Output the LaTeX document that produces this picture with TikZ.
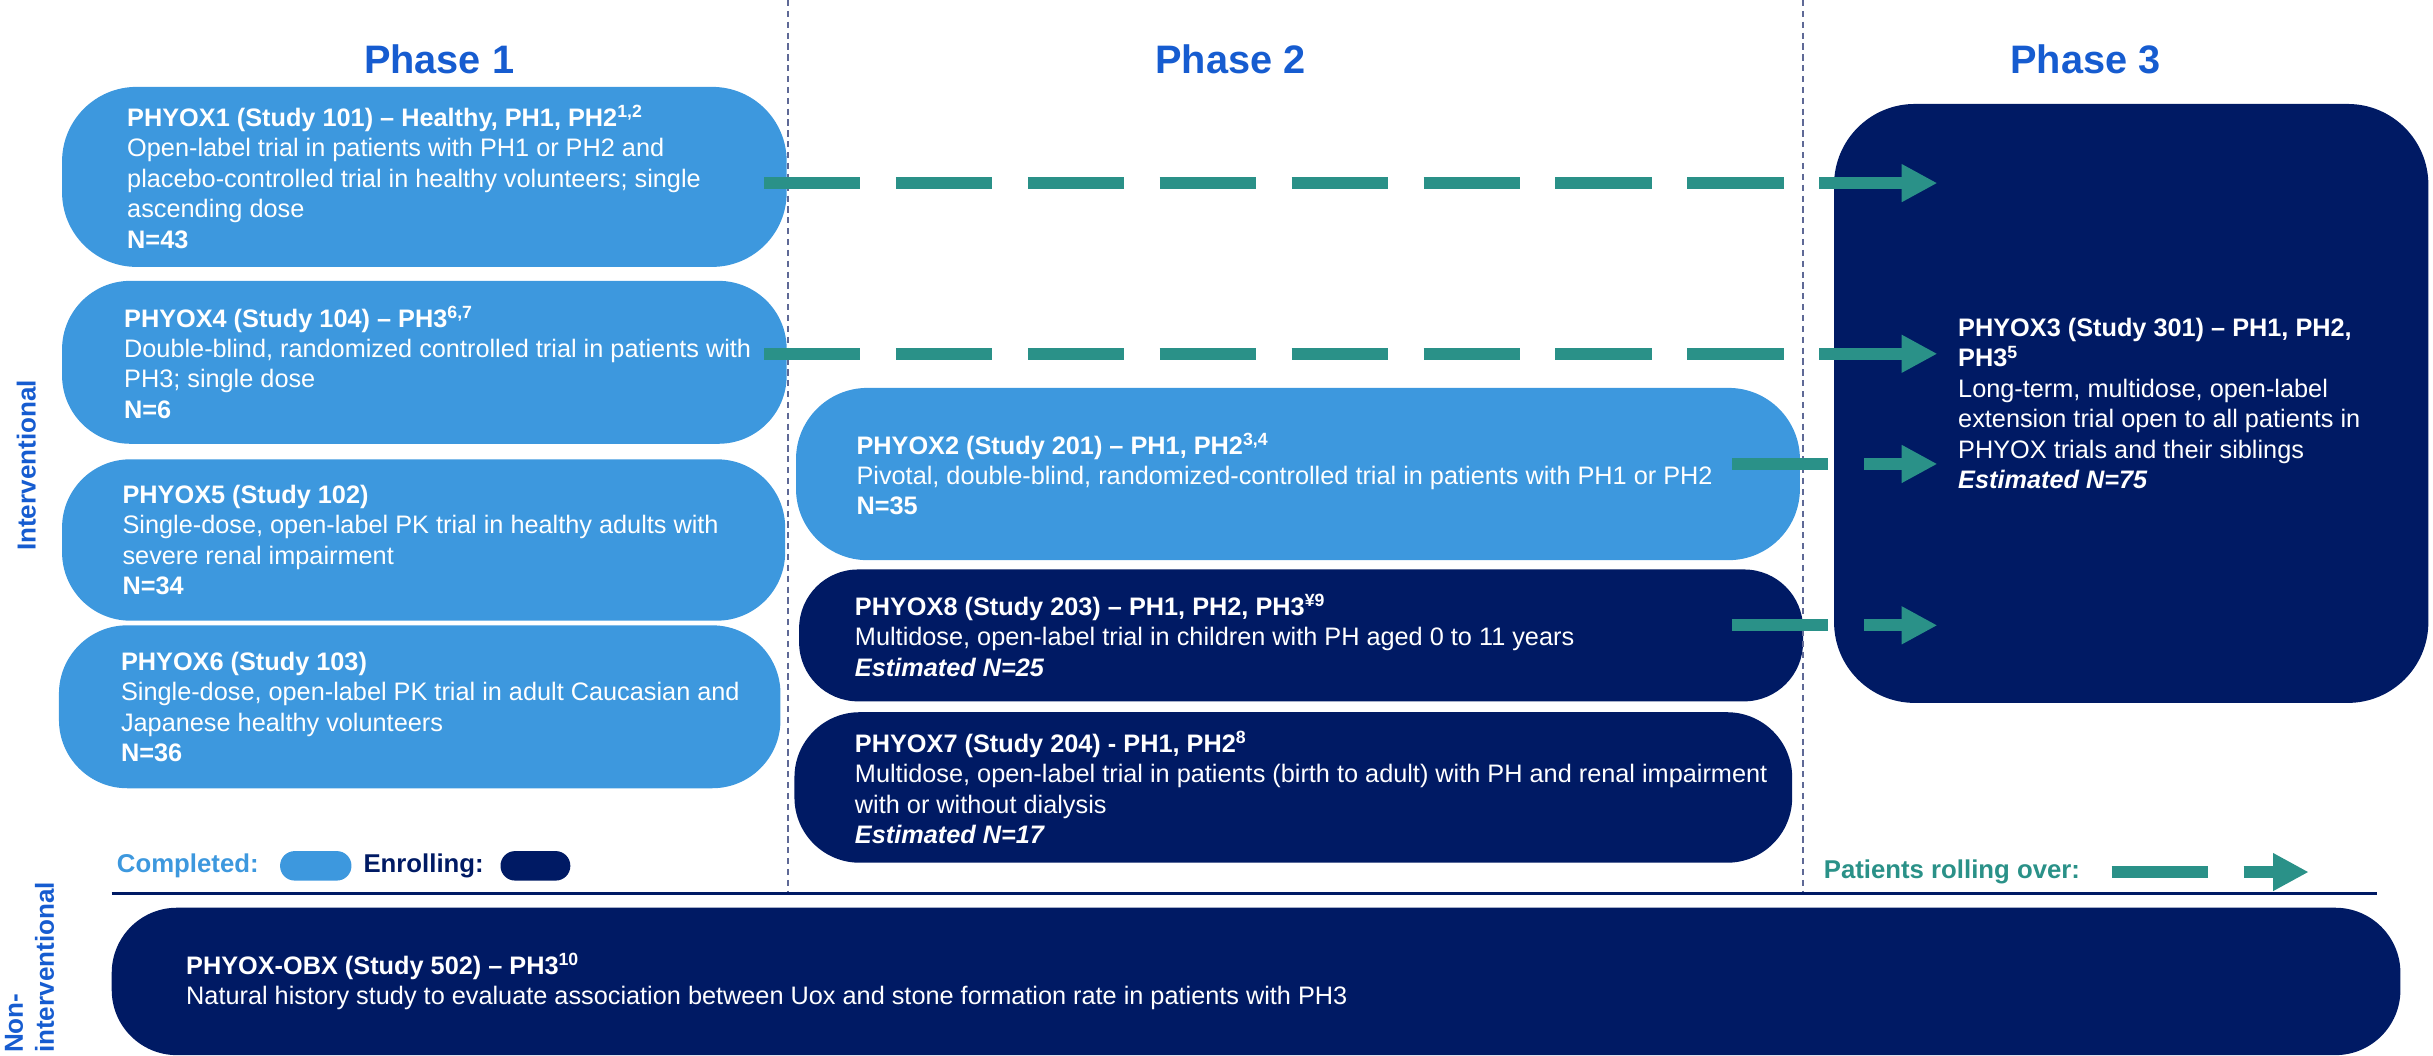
\documentclass[tikz,border=0pt]{standalone}
\usepackage{fontspec}
\setmainfont{Liberation Sans}
\usetikzlibrary{positioning, arrows.meta}
\definecolor{done}{RGB}{61,152,222}
\definecolor{navy}{RGB}{0,26,100}
\definecolor{roll}{RGB}{42,145,136}
\definecolor{phaseblue}{RGB}{22,92,208}
\definecolor{divline}{RGB}{95,105,150}

\begin{document}
\begin{tikzpicture}[x=0.5pt, y=-0.5pt,
    every node/.style={inner sep=0pt},
    pill/.style={shape=rectangle, draw=none},
    completed/.style={pill, fill=done},
    enrolling/.style={pill, fill=navy},
    trial/.style={anchor=west, align=left, text=white,
      font=\fontsize{8.15}{9.8}\selectfont},
    phase/.style={text=phaseblue, font=\fontsize{12.8}{15}\selectfont\bfseries},
    side/.style={rotate=90, text=phaseblue, align=left,
      font=\fontsize{8.4}{10}\selectfont\bfseries},
    key/.style={anchor=west, font=\fontsize{8.3}{9.8}\selectfont\bfseries},
    rollover/.style={draw=roll, line width=3.85pt, dash pattern=on 31pt off 11.5pt,
      -{Triangle[length=11.5pt, width=11.4pt]}},
    divider/.style={draw=divline, line width=0.5pt, dash pattern=on 2pt off 1.5pt}]
  \useasboundingbox (0,0) rectangle (1568,680);

  \node[phase] (phase1) at (283,38) {Phase 1};
  \node[phase] (phase2) at (793,38) {Phase 2};
  \node[phase] (phase3) at (1344,38) {Phase 3};

  \node[completed, minimum width=233.5pt, minimum height=58pt, rounded corners=24pt] (phyox1) at (273.5,114) {};
  \node[completed, minimum width=233.5pt, minimum height=52.5pt, rounded corners=22pt] (phyox4) at (273.5,233.5) {};
  \node[completed, minimum width=233pt, minimum height=52pt, rounded corners=22pt] (phyox5) at (273,348) {};
  \node[completed, minimum width=232.5pt, minimum height=52.5pt, rounded corners=22pt] (phyox6) at (270.5,455.5) {};
  \node[completed, minimum width=323.5pt, minimum height=55.5pt, rounded corners=23pt] (phyox2) at (836.5,305.5) {};
  \node[enrolling, minimum width=323.5pt, minimum height=42.5pt, rounded corners=19pt] (phyox8) at (838.5,409.5) {};
  \node[enrolling, minimum width=321.5pt, minimum height=48.5pt, rounded corners=21pt] (phyox7) at (833.5,507.5) {};
  \node[enrolling, minimum width=191.5pt, minimum height=193pt, rounded corners=26pt] (phyox3) at (1373.5,260) {};
  \node[enrolling, minimum width=737.5pt, minimum height=47.5pt, rounded corners=21pt] (obx) at (809.5,632.5) {};

  \node[trial] (phyox1txt) at ([xshift=21pt]phyox1.west)
    {\textbf{PHYOX1 (Study 101) – Healthy, PH1, PH2\textsuperscript{1,2}}\\
     Open-label trial in patients with PH1 or PH2 and\\
     placebo-controlled trial in healthy volunteers; single\\
     ascending dose\\
     \textbf{N=43}};
  \node[trial] (phyox4txt) at ([xshift=20pt]phyox4.west)
    {\textbf{PHYOX4 (Study 104) – PH3\textsuperscript{6,7}}\\
     Double-blind, randomized controlled trial in patients with\\
     PH3; single dose\\
     \textbf{N=6}};
  \node[trial] (phyox5txt) at ([xshift=19.5pt]phyox5.west)
    {\textbf{PHYOX5 (Study 102)}\\
     Single-dose, open-label PK trial in healthy adults with\\
     severe renal impairment\\
     \textbf{N=34}};
  \node[trial] (phyox6txt) at ([xshift=20pt]phyox6.west)
    {\textbf{PHYOX6 (Study 103)}\\
     Single-dose, open-label PK trial in adult Caucasian and\\
     Japanese healthy volunteers\\
     \textbf{N=36}};
  \node[trial] (phyox2txt) at ([xshift=19.5pt]phyox2.west)
    {\textbf{PHYOX2 (Study 201) – PH1, PH2\textsuperscript{3,4}}\\
     Pivotal, double-blind, randomized-controlled trial in patients with PH1 or PH2\\
     \textbf{N=35}};
  \node[trial] (phyox8txt) at ([xshift=18pt]phyox8.west)
    {\textbf{PHYOX8 (Study 203) – PH1, PH2, PH3\textsuperscript{¥9}}\\
     Multidose, open-label trial in children with PH aged 0 to 11 years\\
     \textbf{\textit{Estimated N=25}}};
  \node[trial] (phyox7txt) at ([xshift=19.5pt]phyox7.west)
    {\textbf{PHYOX7 (Study 204) - PH1, PH2\textsuperscript{8}}\\
     Multidose, open-label trial in patients (birth to adult) with PH and renal impairment\\
     with or without dialysis\\
     \textbf{\textit{Estimated N=17}}};
  \node[trial] (phyox3txt) at ([xshift=40pt]phyox3.west)
    {\textbf{PHYOX3 (Study 301) – PH1, PH2,}\\
     \textbf{PH3\textsuperscript{5}}\\
     Long-term, multidose, open-label\\
     extension trial open to all patients in\\
     PHYOX trials and their siblings\\
     \textbf{\textit{Estimated N=75}}};
  \node[trial] (obxtxt) at ([xshift=24pt]obx.west)
    {\textbf{PHYOX-OBX (Study 502) – PH3\textsuperscript{10}}\\
     Natural history study to evaluate association between Uox and stone formation rate in patients with PH3};

  \node[side] (interv) at (17,300) {Interventional};
  \node[side, anchor=west] (noninterv) at (19,679) {Non-\\interventional};

  \draw[divider] (508,0) -- (508,576);
  \draw[divider] (1162,0) -- (1162,576);
  \draw[navy, line width=1pt] (72,576) -- (1532,576);

  \coordinate (tip3) at ([xshift=33.5pt]phyox3.west);
  \draw[rollover] ([xshift=-7.5pt, yshift=-2pt]phyox1.east) coordinate (r1) -- (r1 -| tip3);
  \draw[rollover] ([xshift=-7.5pt, yshift=2.75pt]phyox4.east) coordinate (r4) -- (r4 -| tip3);
  \draw[rollover] ([xshift=-22pt, yshift=3.25pt]phyox2.east) coordinate (r2) -- (r2 -| tip3);
  \draw[rollover] ([xshift=-23pt, yshift=3.25pt]phyox8.east) coordinate (r8) -- (r8 -| tip3);

  \node[key, text=done] (donekey) at (75,558) {Completed:};
  \node[completed, minimum width=23pt, minimum height=9.5pt, rounded corners=4.7pt, right=6.5pt of donekey] (donepill) {};
  \node[key, text=navy, right=3.5pt of donepill] (enrolkey) {Enrolling:};
  \node[enrolling, minimum width=22.5pt, minimum height=9.5pt, rounded corners=4.7pt, right=5pt of enrolkey] (enrolpill) {};

  \node[key, text=roll] (rollkey) at (1175,562) {Patients rolling over:};
  \draw[rollover] ([xshift=10pt]rollkey.east) -- ([xshift=73.5pt]rollkey.east);
\end{tikzpicture}
\end{document}
